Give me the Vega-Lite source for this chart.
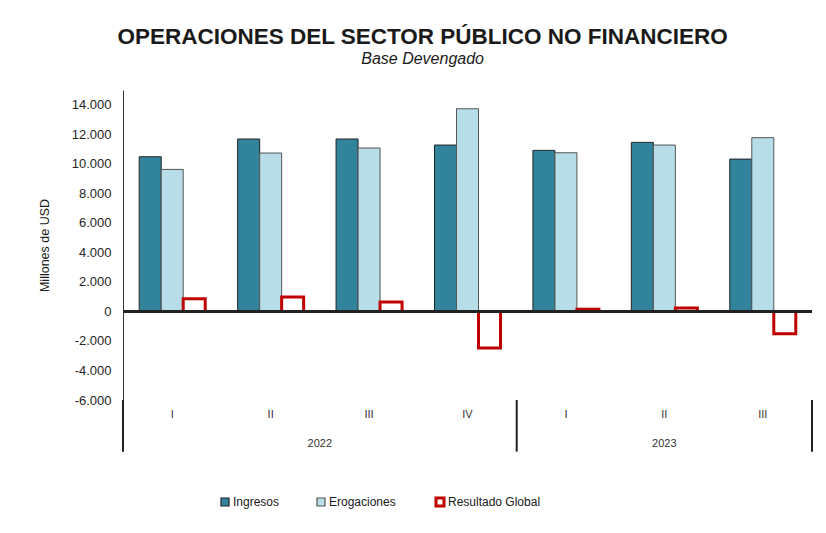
{
  "$schema": "https://vega.github.io/schema/vega-lite/v6.json",
  "width": 689,
  "height": 310,
  "autosize": {"type": "none"},
  "padding": {"left": 123, "top": 90, "right": 14, "bottom": 133},
  "background": "white",
  "config": {
    "locale": {"number": {"decimal": ",", "thousands": ".", "grouping": [3], "currency": ["", ""], "minus": "-"}},
    "font": "Liberation Sans",
    "view": {"stroke": null},
    "axisY": {"labelOverlap": false, "tickCount": 30}
  },
  "title": {
    "text": "OPERACIONES DEL SECTOR PÚBLICO NO FINANCIERO",
    "subtitle": "Base Devengado",
    "anchor": "middle",
    "frame": "bounds",
    "dx": -3,
    "font": "Liberation Sans",
    "fontSize": 22.5,
    "fontWeight": "bold",
    "color": "#1a1a1a",
    "subtitleFont": "Liberation Sans",
    "subtitleFontSize": 16,
    "subtitleFontStyle": "italic",
    "subtitleColor": "#1a1a1a",
    "subtitlePadding": 3,
    "offset": 23
  },
  "datasets": {
    "main": [
      {"period": "2022-I", "quarter": "I", "year": "2022", "series": "Ingresos", "value": 10480},
      {"period": "2022-I", "quarter": "I", "year": "2022", "series": "Erogaciones", "value": 9620},
      {"period": "2022-I", "quarter": "I", "year": "2022", "series": "Resultado Global", "value": 860},
      {"period": "2022-II", "quarter": "II", "year": "2022", "series": "Ingresos", "value": 11680},
      {"period": "2022-II", "quarter": "II", "year": "2022", "series": "Erogaciones", "value": 10730},
      {"period": "2022-II", "quarter": "II", "year": "2022", "series": "Resultado Global", "value": 970},
      {"period": "2022-III", "quarter": "III", "year": "2022", "series": "Ingresos", "value": 11680},
      {"period": "2022-III", "quarter": "III", "year": "2022", "series": "Erogaciones", "value": 11070},
      {"period": "2022-III", "quarter": "III", "year": "2022", "series": "Resultado Global", "value": 640},
      {"period": "2022-IV", "quarter": "IV", "year": "2022", "series": "Ingresos", "value": 11270},
      {"period": "2022-IV", "quarter": "IV", "year": "2022", "series": "Erogaciones", "value": 13730},
      {"period": "2022-IV", "quarter": "IV", "year": "2022", "series": "Resultado Global", "value": -2480},
      {"period": "2023-I", "quarter": "I", "year": "2023", "series": "Ingresos", "value": 10910},
      {"period": "2023-I", "quarter": "I", "year": "2023", "series": "Erogaciones", "value": 10750},
      {"period": "2023-I", "quarter": "I", "year": "2023", "series": "Resultado Global", "value": 150},
      {"period": "2023-II", "quarter": "II", "year": "2023", "series": "Ingresos", "value": 11450},
      {"period": "2023-II", "quarter": "II", "year": "2023", "series": "Erogaciones", "value": 11270},
      {"period": "2023-II", "quarter": "II", "year": "2023", "series": "Resultado Global", "value": 230},
      {"period": "2023-III", "quarter": "III", "year": "2023", "series": "Ingresos", "value": 10320},
      {"period": "2023-III", "quarter": "III", "year": "2023", "series": "Erogaciones", "value": 11770},
      {"period": "2023-III", "quarter": "III", "year": "2023", "series": "Resultado Global", "value": -1510}
    ]
  },
  "data": {"name": "main"},
  "encoding": {
    "x": {
      "field": "period",
      "type": "nominal",
      "sort": ["2022-I", "2022-II", "2022-III", "2022-IV", "2023-I", "2023-II", "2023-III"],
      "scale": {"paddingInner": 0, "paddingOuter": 0},
      "axis": null
    }
  },
  "layer": [
    {
      "mark": {"type": "bar"},
      "encoding": {
        "xOffset": {
          "field": "series",
          "type": "nominal",
          "sort": ["Ingresos", "Erogaciones", "Resultado Global"],
          "scale": {"paddingInner": 0, "paddingOuter": 0.737}
        },
        "y": {
          "field": "value",
          "type": "quantitative",
          "scale": {"domain": [-6000, 15000], "nice": false, "zero": false},
          "axis": {
            "values": [-6000, -4000, -2000, 0, 2000, 4000, 6000, 8000, 10000, 12000, 14000],
            "tickCount": 30,
            "format": ",.0f",
            "labelOverlap": false,
            "grid": false,
            "ticks": false,
            "domainColor": "#333333",
            "domainWidth": 1,
            "labelFont": "Liberation Sans",
            "labelFontSize": 13,
            "labelColor": "#262626",
            "labelPadding": 12,
            "title": "Millones de USD",
            "titleFont": "Liberation Sans",
            "titleFontSize": 12.5,
            "titleFontWeight": "normal",
            "titleColor": "#1a1a1a",
            "titlePadding": 20
          }
        },
        "fill": {
          "field": "series",
          "type": "nominal",
          "scale": {"domain": ["Ingresos", "Erogaciones", "Resultado Global"], "range": ["#31849B", "#B7DEE8", "#FFFFFF"]},
          "legend": {
            "title": null,
            "orient": "none",
            "direction": "horizontal",
            "gridAlign": "none",
            "legendX": 96,
            "legendY": 406,
            "symbolType": "square",
            "symbolSize": 64,
            "labelFont": "Liberation Sans",
            "labelFontSize": 12,
            "labelColor": "#1a1a1a",
            "labelOffset": 2,
            "columnPadding": 34,
            "padding": 0,
            "encode": {
              "symbols": {"update": {"strokeWidth": {"signal": "datum.value === 'Resultado Global' ? 3 : 1.2"}}}
            }
          }
        },
        "stroke": {
          "field": "series",
          "type": "nominal",
          "scale": {"domain": ["Ingresos", "Erogaciones", "Resultado Global"], "range": ["#222222", "#555555", "#C00000"]}
        },
        "strokeWidth": {
          "condition": {"test": "datum.series === 'Resultado Global'", "value": 3},
          "value": 1
        }
      }
    },
    {
      "mark": {"type": "rule", "color": "#222222", "strokeWidth": 2},
      "encoding": {"x": null, "y": {"datum": 0}}
    },
    {
      "transform": [{"filter": "datum.series === 'Ingresos'"}],
      "mark": {"type": "text", "font": "Liberation Sans", "fontSize": 11, "color": "#333333", "baseline": "middle"},
      "encoding": {"y": {"datum": -7000}, "text": {"field": "quarter"}}
    },
    {
      "transform": [{"filter": "datum.series === 'Ingresos' && datum.period === '2022-II'"}],
      "mark": {"type": "text", "font": "Liberation Sans", "fontSize": 11, "color": "#333333", "baseline": "middle"},
      "encoding": {"x": {"field": "period", "type": "nominal", "bandPosition": 1}, "y": {"datum": -9000}, "text": {"field": "year"}}
    },
    {
      "transform": [{"filter": "datum.series === 'Ingresos' && datum.period === '2023-II'"}],
      "mark": {"type": "text", "font": "Liberation Sans", "fontSize": 11, "color": "#333333", "baseline": "middle"},
      "encoding": {"y": {"datum": -9000}, "text": {"field": "year"}}
    },
    {
      "transform": [{"filter": "datum.series === 'Ingresos' && datum.quarter === 'I'"}],
      "mark": {"type": "rule", "color": "#222222", "strokeWidth": 2},
      "encoding": {"x": {"field": "period", "type": "nominal", "bandPosition": 0}, "y": {"datum": -6000}, "y2": {"datum": -9500}}
    },
    {
      "transform": [{"filter": "datum.series === 'Ingresos' && datum.period === '2023-III'"}],
      "mark": {"type": "rule", "color": "#222222", "strokeWidth": 2},
      "encoding": {"x": {"field": "period", "type": "nominal", "bandPosition": 1}, "y": {"datum": -6000}, "y2": {"datum": -9500}}
    }
  ]
}
